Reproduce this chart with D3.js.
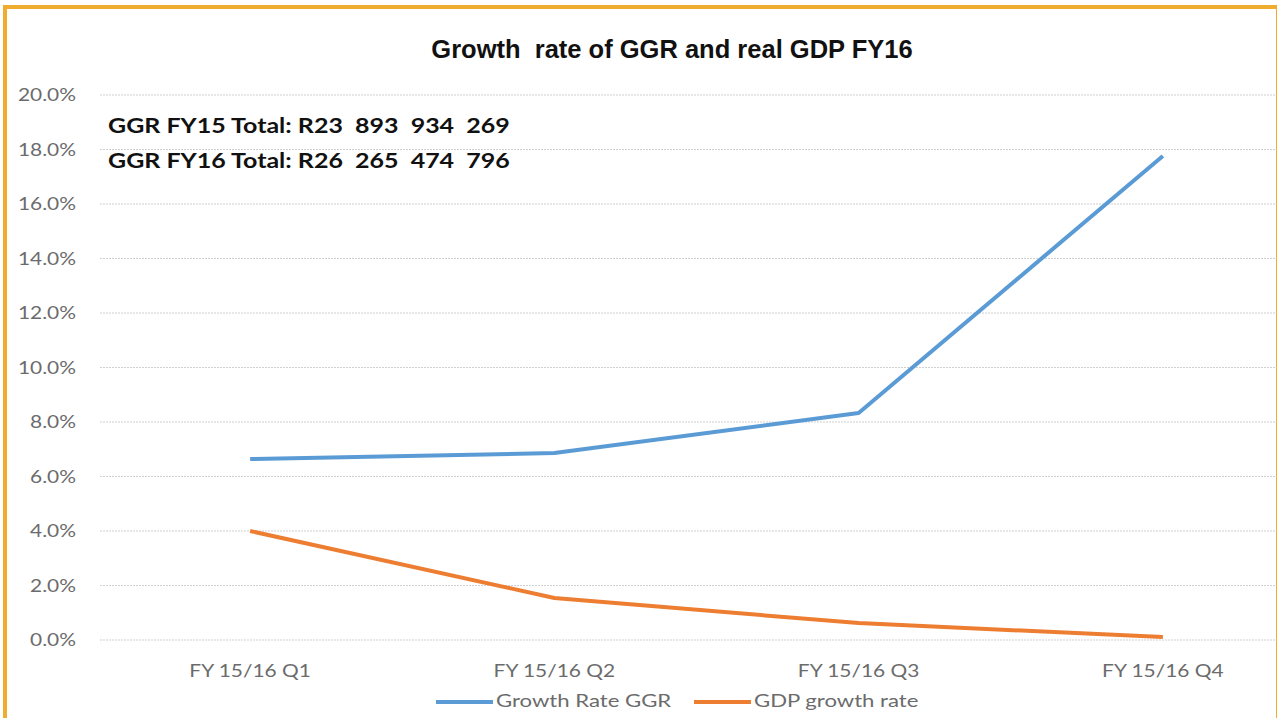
<!DOCTYPE html>
<html>
<head>
<meta charset="utf-8">
<script src="https://cdn.jsdelivr.net/npm/d3@7"></script>
<style>
  body { margin: 0; background: #fff; }
  svg { display: block; }
</style>
</head>
<body>
<svg id="chart" width="1277" height="718"></svg>
<script>
const categories = ["FY 15/16 Q1", "FY 15/16 Q2", "FY 15/16 Q3", "FY 15/16 Q4"];
const ggrGrowth = [0.0664, 0.0686, 0.0833, 0.1776];
const gdpGrowth = [0.040, 0.0154, 0.0062, 0.0011];
const yTicks = [0, 0.02, 0.04, 0.06, 0.08, 0.10, 0.12, 0.14, 0.16, 0.18, 0.20];
const seriesNames = ["Growth Rate GGR", "GDP growth rate"];
const notes = ["GGR FY15 Total: R23  893  934  269", "GGR FY16 Total: R26  265  474  796"];

const W = 1277, H = 718;
const stretch = 1.23; // source text looks horizontally stretched
const svg = d3.select("#chart");

const xScale = d3.scaleBand().domain(categories).range([98, 1315]).padding(0);
const yScale = d3.scaleLinear().domain([0, 0.20]).range([640, 95]);

svg.append("clipPath").attr("id", "frame")
  .append("rect").attr("x", 0).attr("y", 0).attr("width", 1276).attr("height", H);

const plot = svg.append("g").attr("clip-path", "url(#frame)");

// gridlines
plot.selectAll(".grid")
  .data(yTicks)
  .enter()
  .append("line")
  .attr("class", "grid")
  .attr("x1", 100)
  .attr("x2", 1276)
  .attr("y1", (d) => yScale(d))
  .attr("y2", (d) => yScale(d))
  .attr("stroke", "#d0d0d0")
  .attr("stroke-width", 1.2)
  .attr("stroke-dasharray", "2,1");

// y tick labels
svg.selectAll(".ytick")
  .data(yTicks)
  .enter()
  .append("text")
  .attr("class", "ytick")
  .attr("transform", (d) => `translate(76,${yScale(d) + 6}) scale(${stretch},1)`)
  .attr("text-anchor", "end")
  .attr("font-family", "Lato, 'Open Sans', sans-serif")
  .attr("font-size", 17)
  .attr("fill", "#6b6b6b")
  .text((d) => d3.format(".1%")(d));

// x tick labels
svg.selectAll(".xtick")
  .data(categories)
  .enter()
  .append("text")
  .attr("class", "xtick")
  .attr("transform", (d) => `translate(${xScale(d) + xScale.bandwidth() / 2},677) scale(${stretch},1)`)
  .attr("text-anchor", "middle")
  .attr("font-family", "Lato, 'Open Sans', sans-serif")
  .attr("font-size", 17)
  .attr("fill", "#6b6b6b")
  .text((d) => d);

const line = d3.line()
  .x((d, i) => xScale(categories[i]) + xScale.bandwidth() / 2)
  .y((d) => yScale(d));

const colors = ["#5b9bd5", "#ed7d31"];
[ggrGrowth, gdpGrowth].forEach((s, k) => {
  plot.append("path")
    .datum(s)
    .attr("d", line)
    .attr("fill", "none")
    .attr("stroke", colors[k])
    .attr("stroke-width", 4)
    .attr("stroke-linejoin", "round");
});

// title
svg.append("text")
  .attr("x", 672)
  .attr("y", 58)
  .attr("text-anchor", "middle")
  .attr("font-family", "'Liberation Sans', Arial, sans-serif")
  .attr("font-weight", "bold")
  .attr("font-size", 25.5)
  .attr("fill", "#111")
  .style("white-space", "pre")
  .text("Growth  rate of GGR and real GDP FY16");

// notes
svg.selectAll(".note")
  .data(notes)
  .enter()
  .append("text")
  .attr("class", "note")
  .attr("transform", (d, i) => `translate(108,${133 + i * 35}) scale(1.19,1)`)
  .attr("font-family", "Lato, 'Open Sans', sans-serif")
  .attr("font-weight", "bold")
  .attr("font-size", 21)
  .attr("fill", "#111")
  .style("white-space", "pre")
  .text((d) => d);

// legend
const legendX = [436, 694];
const legend = svg.selectAll(".legend")
  .data(seriesNames)
  .enter()
  .append("g")
  .attr("class", "legend")
  .attr("transform", (d, i) => `translate(${legendX[i]},702)`);
legend.append("line")
  .attr("x1", 0).attr("x2", 57)
  .attr("y1", 0).attr("y2", 0)
  .attr("stroke", (d, i) => colors[i])
  .attr("stroke-width", 4);
legend.append("text")
  .attr("transform", `translate(60,5) scale(${stretch},1)`)
  .attr("font-family", "Lato, 'Open Sans', sans-serif")
  .attr("font-size", 18)
  .attr("fill", "#6b6b6b")
  .text((d) => d);

// frame
svg.append("rect").attr("x", 3).attr("y", 5).attr("width", W - 4).attr("height", 4).attr("fill", "#f0ac2e");
svg.append("rect").attr("x", 3).attr("y", 5).attr("width", 4).attr("height", H - 5).attr("fill", "#f0ac2e");
svg.append("rect").attr("x", 1276).attr("y", 5).attr("width", 1).attr("height", H - 5).attr("fill", "#f0ac2e");
</script>
</body>
</html>
